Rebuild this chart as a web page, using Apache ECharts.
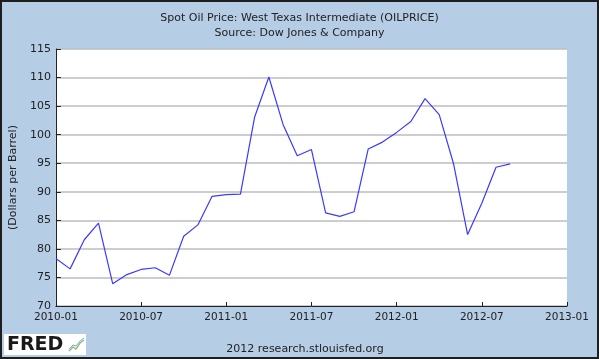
<!DOCTYPE html>
<html>
<head>
<meta charset="utf-8">
<script src="https://cdn.jsdelivr.net/npm/echarts@6/dist/echarts.min.js"></script>
<style>
  html, body { margin: 0; padding: 0; }
  #wrap { width: 599px; height: 359px; box-sizing: border-box; border: 2px solid #1e1e1e; background: #b5cde5; position: relative; }
  #chart { position: absolute; left: -2px; top: -2px; width: 599px; height: 359px; }
</style>
</head>
<body>
<div id="wrap"><div id="chart"></div></div>
<script>
// Months on the axis (2010-01 .. 2013-01)
const months = [
  '2010-01','2010-02','2010-03','2010-04','2010-05','2010-06','2010-07','2010-08','2010-09','2010-10','2010-11','2010-12',
  '2011-01','2011-02','2011-03','2011-04','2011-05','2011-06','2011-07','2011-08','2011-09','2011-10','2011-11','2011-12',
  '2012-01','2012-02','2012-03','2012-04','2012-05','2012-06','2012-07','2012-08','2012-09','2012-10','2012-11','2012-12',
  '2013-01'
];
// Spot oil price, dollars per barrel (2010-01 .. 2012-09)
const oilPrice = [
  78.3, 76.5, 81.6, 84.5, 73.9, 75.5, 76.4, 76.7, 75.4, 82.2, 84.2, 89.2,
  89.5, 89.6, 103.1, 110.1, 101.8, 96.3, 97.4, 86.3, 85.7, 86.5, 97.5, 98.7,
  100.4, 102.3, 106.3, 103.5, 95.0, 82.5, 88.0, 94.3, 94.9
];
const yMin = 70, yMax = 115, yStep = 5;

const chart = echarts.init(document.getElementById('chart'), null, { renderer: 'canvas' });
const txt = '#222222';
const font = 'DejaVu Sans';
chart.setOption({
  backgroundColor: 'transparent',
  animation: false,
  title: {
    text: 'Spot Oil Price: West Texas Intermediate (OILPRICE)\nSource: Dow Jones & Company',
    left: 'center',
    top: 6,
    textStyle: { fontFamily: font, fontSize: 11, fontWeight: 'normal', color: txt, lineHeight: 15 }
  },
  grid: { left: 51.5, right: 32, top: 49, bottom: 53, containLabel: false, show: true, backgroundColor: '#ffffff', borderWidth: 0 },
  xAxis: {
    type: 'category',
    data: months,
    boundaryGap: false,
    axisLine: { show: true, lineStyle: { color: '#222', width: 1 } },
    axisTick: { show: true, inside: true, length: 4, interval: 5, lineStyle: { color: '#222' } },
    axisLabel: { interval: 5, color: txt, fontFamily: font, fontSize: 10.5, margin: 6 },
    splitLine: { show: false }
  },
  yAxis: {
    type: 'value',
    min: yMin, max: yMax, interval: yStep,
    name: '(Dollars per Barrel)',
    nameLocation: 'middle',
    nameGap: 35,
    nameTextStyle: { fontFamily: font, fontSize: 11, color: txt },
    axisLine: { show: true, lineStyle: { color: '#222', width: 1 } },
    axisTick: { show: true, inside: true, length: 5, lineStyle: { color: '#222' } },
    axisLabel: { color: txt, fontFamily: font, fontSize: 11, margin: 5 },
    splitLine: { show: true, lineStyle: { color: '#bcbcbc', width: 1.5 } }
  },
  series: [{
    type: 'line',
    data: oilPrice,
    symbol: 'none',
    lineStyle: { color: '#3a3aff', width: 1.2 },
    z: 3
  }],
  graphic: [
    {
      type: 'rect', left: 4, top: 334, z: 10,
      shape: { width: 82, height: 21 },
      style: { fill: '#ffffff' }
    },
    {
      type: 'text', left: 7, top: 336, z: 11,
      style: { text: 'FRED', fill: '#1a1a1a', font: 'bold 19px "DejaVu Sans"' }
    },
    {
      type: 'polyline', z: 11,
      shape: { points: [[69, 351], [73, 347], [76, 349], [80, 343], [84, 340]] },
      style: { stroke: '#8fbf7a', lineWidth: 1.5, fill: null }
    },
    {
      type: 'polyline', z: 11,
      shape: { points: [[69, 349], [73, 345], [76, 346], [80, 341], [84, 338]] },
      style: { stroke: '#8aa9d6', lineWidth: 1, fill: null }
    },
    {
      type: 'text', x: 305, y: 349, z: 11,
      style: { text: '2012 research.stlouisfed.org', fill: txt, font: '11px "DejaVu Sans"', align: 'center', verticalAlign: 'middle' }
    }
  ]
});
</script>
</body>
</html>
